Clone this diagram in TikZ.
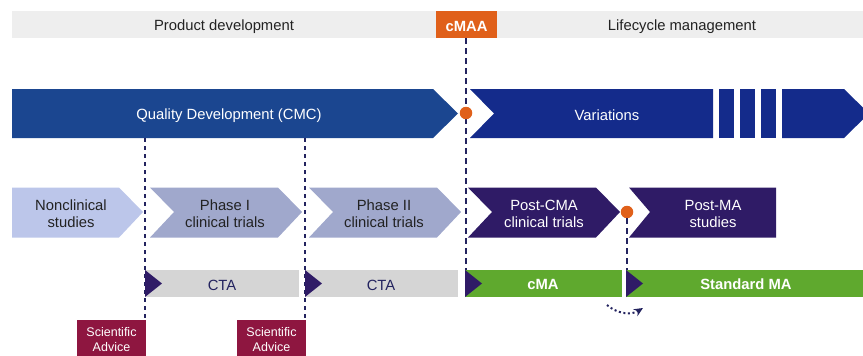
\documentclass[tikz,border=0pt]{standalone}
\usepackage{fontspec}
\setmainfont{Liberation Sans}
\usetikzlibrary{arrows.meta}
\definecolor{hdr}{HTML}{EEEEEE}
\definecolor{orng}{HTML}{E0601A}
\definecolor{qual}{HTML}{1B4690}
\definecolor{vari}{HTML}{142B8B}
\definecolor{nonc}{HTML}{BCC6EA}
\definecolor{phas}{HTML}{A0A8CC}
\definecolor{purp}{HTML}{2F1B66}
\definecolor{ctag}{HTML}{D5D5D5}
\definecolor{gren}{HTML}{5FA92E}
\definecolor{wine}{HTML}{8E1640}
\definecolor{navy}{HTML}{23235F}
\definecolor{ink}{HTML}{222222}
\tikzset{
  lbl/.style={font=\fontsize{14.8}{17.3}\selectfont,align=center,inner sep=0pt,text=ink},
  lblw/.style={lbl,text=white},
  lblb/.style={lbl,text=white,font=\fontsize{14.8}{17.3}\selectfont\bfseries},
  lbln/.style={lbl,text=navy},
  sa/.style={font=\fontsize{12.5}{15}\selectfont,align=center,inner sep=0pt,text=white},
  box/.style={anchor=north west,inner sep=0pt,outer sep=0pt,minimum width=#1},
  dashthin/.style={navy,line width=1.2pt,dash pattern=on 4pt off 4pt},
  dashline/.style={navy,line width=1.7pt,dash pattern=on 6pt off 4pt},
  dot/.style={circle,fill=orng,inner sep=0pt,minimum size=12.5pt},
}
\begin{document}
\begin{tikzpicture}[x=1pt,y=-1pt]
\useasboundingbox (0,0) rectangle (863,356);
\clip (0,0) rectangle (863,356);
% header
\fill[hdr] (12,11) rectangle (863,38);
\node[box=61pt,minimum height=27pt,fill=orng] (cmaa) at (436,11) {};
\node[lbl] (pd) at (224,26.5) {Product development};
\node[lbl] (lm) at (682,26.5) {Lifecycle management};
\node[lblb] (cmaat) at (466.5,26) {cMAA};
% dashed end points
\coordinate (e3) at (466,270);
\coordinate (q1) at (145,138);
\coordinate (q2) at (305,138);
\coordinate (e4) at (627,270);
% bands
\fill[qual] (12,89) -- (433,89) -- (458,113.5) -- (433,138) -- (12,138) -- cycle;
\fill[vari] (470,89) -- (713,89) -- (713,138) -- (470,138) -- (494,113.5) -- cycle;
\fill[vari] (719,89) rectangle (734,138);
\fill[vari] (740,89) rectangle (755,138);
\fill[vari] (761,89) rectangle (776,138);
\fill[vari] (782,89) -- (844,89) -- (869,113.5) -- (844,138) -- (782,138) -- cycle;
\node[lblw] (qd) at (229,115.5) {Quality Development (CMC)};
\node[lblw] (va) at (607,115.5) {Variations};
% row 2
\fill[nonc] (12,187.5) -- (119,187.5) -- (143,212) -- (119,237.5) -- (12,237.5) -- cycle;
\fill[phas] (150,187.5) -- (278,187.5) -- (302,212) -- (278,237.5) -- (150,237.5) -- (174,212) -- cycle;
\fill[phas] (309,187.5) -- (437,187.5) -- (461,212) -- (437,237.5) -- (309,237.5) -- (333,212) -- cycle;
\fill[purp] (468,187.5) -- (596,187.5) -- (620,212) -- (596,237.5) -- (468,237.5) -- (492,212) -- cycle;
\fill[purp] (629,187.5) -- (776,187.5) -- (776,237.5) -- (629,237.5) -- (650,212) -- cycle;
\node[lbl] (n1) at (71,214) {Nonclinical\\studies};
\node[lbl] (n2) at (225,214) {Phase I\\clinical trials};
\node[lbl] (n3) at (384,214) {Phase II\\clinical trials};
\node[lblw] (n4) at (544,214) {Post-CMA\\clinical trials};
\node[lblw] (n5) at (713,214) {Post-MA\\studies};
% scientific advice boxes
\node[box=69pt,minimum height=40pt,fill=wine] (sa1) at (77,320) {};
\node[box=69pt,minimum height=40pt,fill=wine] (sa2) at (237,320) {};
\node[sa] (sa1t) at (111.5,340) {Scientific\\Advice};
\node[sa] (sa2t) at (271.5,340) {Scientific\\Advice};
% dashed connectors
\draw[dashthin] (q1) -- (q1 |- sa1.north);
\draw[dashthin] (q2) -- (q2 |- sa2.north);
\draw[dashline] (e3 |- cmaa.south) -- (e3);
% bars row 3
\node[box=154pt,minimum height=27pt,fill=ctag] (c1) at (145,270) {};
\node[box=153pt,minimum height=27pt,fill=ctag] (c2) at (305,270) {};
\node[box=157pt,minimum height=27pt,fill=gren] (c3) at (465,270) {};
\node[box=240pt,minimum height=27pt,fill=gren] (c4) at (626,270) {};
\fill[purp] (145,270) -- (162,283.5) -- (145,297) -- cycle;
\fill[purp] (305,270) -- (322,283.5) -- (305,297) -- cycle;
\fill[purp] (465,270) -- (482,283.5) -- (465,297) -- cycle;
\fill[purp] (626,270) -- (643,283.5) -- (626,297) -- cycle;
\node[lbln] (ct1) at (222,285.5) {CTA};
\node[lbln] (ct2) at (381,285.5) {CTA};
\node[lblb] (cm) at (543,284.5) {cMA};
\node[lblb] (st) at (746,284.5) {Standard MA};
% dots
\node[dot] (d1) at (466,113) {};
\node[dot] (d2) at (627,212) {};
\draw[dashline] (d2) -- (e4);
% dotted arrow
\coordinate (a1) at (607,305);
\coordinate (a2) at (643,308);
\draw[navy,line width=2pt,dash pattern=on 2pt off 2.6pt,-{Stealth[length=9pt,width=8pt]}] (a1) .. controls (616,313) and (630,316) .. (a2);
\end{tikzpicture}
\end{document}
